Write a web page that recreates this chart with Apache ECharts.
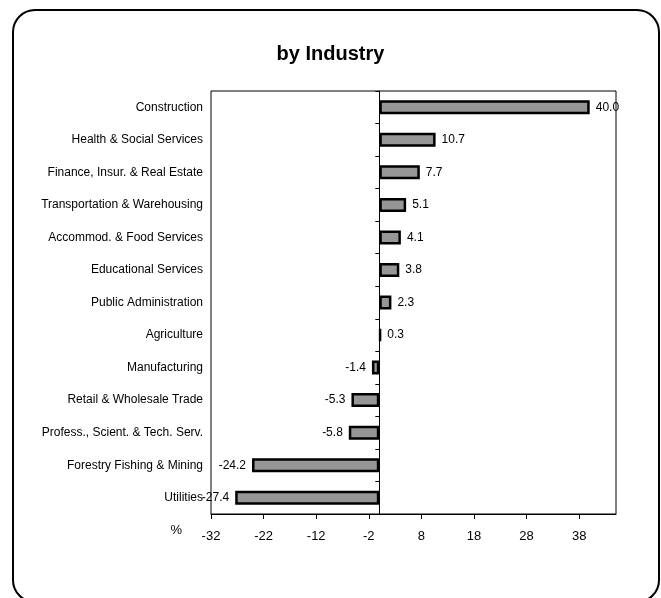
<!DOCTYPE html>
<html>
<head>
<meta charset="utf-8">
<script src="https://cdn.jsdelivr.net/npm/echarts@6/dist/echarts.min.js"></script>
<style>
  html, body { margin: 0; padding: 0; background: #fff; }
  #chart { width: 661px; height: 598px; }
</style>
</head>
<body>
<div id="chart"></div>
<script>
const industries = [
  'Construction',
  'Health & Social Services',
  'Finance, Insur. & Real Estate',
  'Transportation & Warehousing',
  'Accommod. & Food Services',
  'Educational Services',
  'Public Administration',
  'Agriculture',
  'Manufacturing',
  'Retail & Wholesale Trade',
  'Profess., Scient. & Tech. Serv.',
  'Forestry Fishing & Mining',
  'Utilities'
]
const change = [40.0, 10.7, 7.7, 5.1, 4.1, 3.8, 2.3, 0.3, -1.4, -5.3, -5.8, -24.2, -27.4]
const xTicks = [-32, -22, -12, -2, 8, 18, 28, 38]

const font = '"Liberation Sans", Arial, sans-serif'
const chart = echarts.init(document.getElementById('chart'))

// negative bars get the label on the left end
const barData = change.map(v => ({
  value: v,
  label: { position: v < 0 ? 'left' : 'right' }
}))

chart.setOption({
  animation: false,
  textStyle: { fontFamily: font, color: '#000' },
  title: {
    text: 'by Industry',
    left: 'center',
    top: 39,
    textStyle: { fontFamily: font, fontSize: 20, fontWeight: 'bold', color: '#000' }
  },
  graphic: [{
    type: 'rect',
    shape: { x: 13, y: 10, width: 646, height: 592, r: 22 },
    style: { fill: 'none', stroke: '#000', lineWidth: 2 },
    z: -1
  }],
  grid: {
    left: 211, top: 91, width: 405, height: 423,
    show: true, borderColor: '#000', borderWidth: 1, backgroundColor: '#fff'
  },
  xAxis: {
    type: 'value',
    min: -32,
    max: 45,
    interval: 10,
    name: '%',
    nameLocation: 'start',
    nameGap: 29,
    nameTextStyle: { fontFamily: font, fontSize: 13, color: '#000', verticalAlign: 'top', padding: [10, 0, 0, 0] },
    axisLine: { show: true, lineStyle: { color: '#000', width: 1 } },
    axisTick: { show: true, length: 5, customValues: xTicks, lineStyle: { color: '#000' } },
    axisLabel: { customValues: xTicks, margin: 16, fontSize: 13, color: '#000', fontFamily: font },
    splitLine: { show: false }
  },
  yAxis: [{
    type: 'category',
    data: industries,
    inverse: true,
    axisLine: { show: true, onZero: true, lineStyle: { color: '#000', width: 1 } },
    axisTick: { show: true, length: 4, lineStyle: { color: '#000' } },
    axisLabel: { show: false },
    splitLine: { show: false }
  }, {
    type: 'category',
    data: industries,
    inverse: true,
    position: 'left',
    axisLine: { show: false, onZero: false },
    axisTick: { show: false },
    axisLabel: { margin: 8, fontSize: 12, color: '#000', fontFamily: font },
    splitLine: { show: false }
  }],
  series: [{
    type: 'bar',
    yAxisIndex: 0,
    data: barData,
    barWidth: 14,
    itemStyle: { color: '#969696', borderColor: '#000', borderWidth: 2.5 },
    label: {
      show: true,
      distance: 6,
      fontSize: 12,
      color: '#000',
      fontFamily: font,
      formatter: p => p.value.toFixed(1)
    }
  }]
})
</script>
</body>
</html>
